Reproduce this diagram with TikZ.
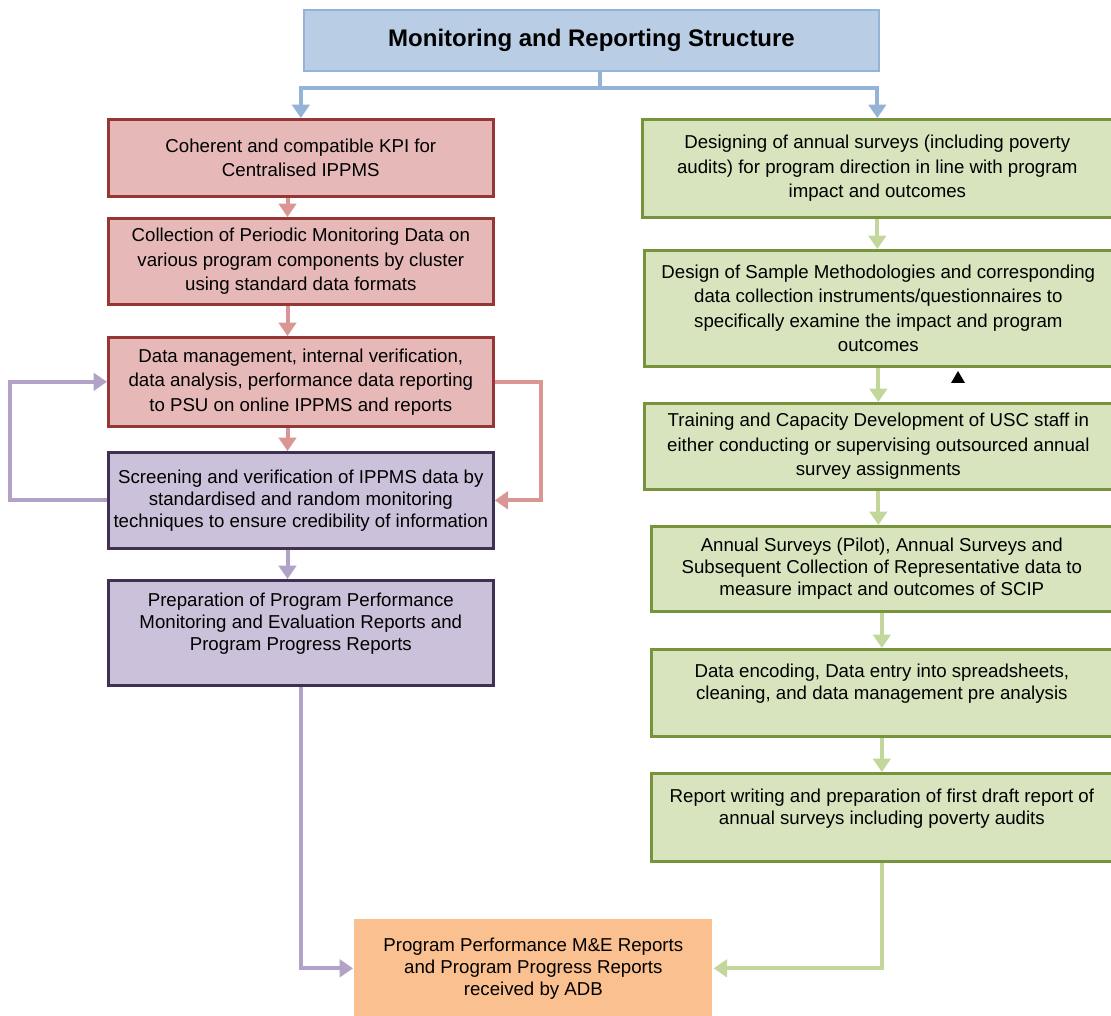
\documentclass[tikz,border=0pt]{standalone}
\usepackage{fontspec}
\setmainfont{Liberation Sans}
\usetikzlibrary{arrows.meta}
\definecolor{titlefill}{HTML}{B9CDE5}
\definecolor{titleline}{HTML}{95B3D7}
\definecolor{redfill}{HTML}{E6B9B8}
\definecolor{redline}{HTML}{953735}
\definecolor{redarr}{HTML}{D99694}
\definecolor{purplefill}{HTML}{CCC1DA}
\definecolor{purpleline}{HTML}{403152}
\definecolor{purplearr}{HTML}{B3A2C7}
\definecolor{greenfill}{HTML}{D7E4BD}
\definecolor{greenline}{HTML}{77933C}
\definecolor{greenarr}{HTML}{C3D69B}
\definecolor{orangefill}{HTML}{FAC090}
\begin{document}
\begin{tikzpicture}[x=0.75pt,y=-0.75pt,
    box/.style={anchor=north west,align=center,inner sep=2pt,line width=2pt,
        font=\fontsize{14}{18.4}\selectfont},
    tight/.style={font=\fontsize{14}{16.4}\selectfont},
    redbox/.style={box,fill=redfill,draw=redline,minimum width=288.75pt},
    purplebox/.style={box,tight,fill=purplefill,draw=purpleline,minimum width=288.75pt},
    greenbox/.style={box,fill=greenfill,draw=greenline},
    link/.style={line width=3pt,-{Triangle[width=13pt,length=10pt]}}]
    \useasboundingbox (0,0) rectangle (1111,1016);
    % title
    \node[box,fill=titlefill,draw=titleline,line width=1.5pt,minimum width=431.25pt,
        minimum height=45.75pt,font=\fontsize{18}{22}\selectfont\bfseries] (title) at (303,9)
        {Monitoring and Reporting Structure};
    % left column
    \node[redbox,minimum height=57.75pt] (r1) at (107,118)
        {Coherent and compatible KPI for\\Centralised IPPMS};
    \node[redbox,minimum height=64.5pt] (r2) at (107,217)
        {Collection of Periodic Monitoring Data on\\various program components by cluster\\using standard data formats};
    \node[redbox,minimum height=66.75pt] (r3) at (107,336)
        {Data management, internal verification,\\data analysis, performance data reporting\\to PSU on online IPPMS and reports};
    \node[purplebox,minimum height=72pt] (p1) at (107,451)
        {Screening and verification of IPPMS data by\\standardised and random monitoring\\techniques to ensure credibility of information};
    \node[purplebox,minimum height=78.75pt] (p2) at (107,579)
        {Preparation of Program Performance\\Monitoring and Evaluation Reports and\\Program Progress Reports\\\mbox{}};
    % right column
    \node[greenbox,minimum width=352.5pt,minimum height=73.5pt] (g1) at (641,118)
        {Designing of annual surveys (including poverty\\audits) for program direction in line with program\\impact and outcomes};
    \node[greenbox,minimum width=351pt,minimum height=87pt] (g2) at (643,249)
        {Design of Sample Methodologies and corresponding\\data collection instruments/questionnaires to\\specifically examine the impact and program\\outcomes};
    \node[greenbox,minimum width=351pt,minimum height=64.5pt] (g3) at (643,402)
        {Training and Capacity Development of USC staff in\\either conducting or supervising outsourced annual\\survey assignments};
    \node[greenbox,tight,minimum width=345.75pt,minimum height=63.75pt] (g4) at (650,525)
        {Annual Surveys (Pilot), Annual Surveys and\\Subsequent Collection of Representative data to\\measure impact and outcomes of SCIP};
    \node[greenbox,tight,minimum width=345.75pt,minimum height=65.25pt] (g5) at (650,648)
        {Data encoding, Data entry into spreadsheets,\\cleaning, and data management pre analysis\\\mbox{}};
    \node[greenbox,tight,minimum width=345.75pt,minimum height=66pt] (g6) at (650,772)
        {Report writing and preparation of first draft report of\\annual surveys including poverty audits\\\mbox{}};
    % result
    \node[box,tight,fill=orangefill,minimum width=268.5pt,minimum height=73.5pt] (out) at (353,918)
        {Program Performance M\&E Reports\\and Program Progress Reports\\received by ADB};
    % connectors
    \coordinate (fork) at (600,88);
    \draw[link,titleline,-] (fork |- title.south) -- (fork);
    \draw[link,titleline] (fork) -| (r1.north);
    \draw[link,titleline] (fork) -| (g1.north);
    \foreach \a/\b in {r1/r2,r2/r3,r3/p1}{
        \draw[link,redarr] ([xshift=-10pt]\a.south) -- ([xshift=-10pt]\b.north);
    }
    \draw[link,purplearr] ([xshift=-10pt]p1.south) -- ([xshift=-10pt]p2.north);
    \draw[link,redarr] (r3.east) -- ++(46,0) |- (p1.east);
    \draw[link,purplearr] (p1.west) -- ++(-97,0) |- (r3.west);
    \foreach \a/\b in {g1/g2,g2/g3,g3/g4,g4/g5,g5/g6}{
        \draw[link,greenarr] (\a.south) -- (\a.south |- \b.north);
    }
    \draw[link,purplearr] (p2.south) |- (out.west);
    \draw[link,greenarr] (g6.south) |- (out.east);
    % stray mark
    \fill (951,383) -- (965,383) -- (958,371) -- cycle;
\end{tikzpicture}
\end{document}
